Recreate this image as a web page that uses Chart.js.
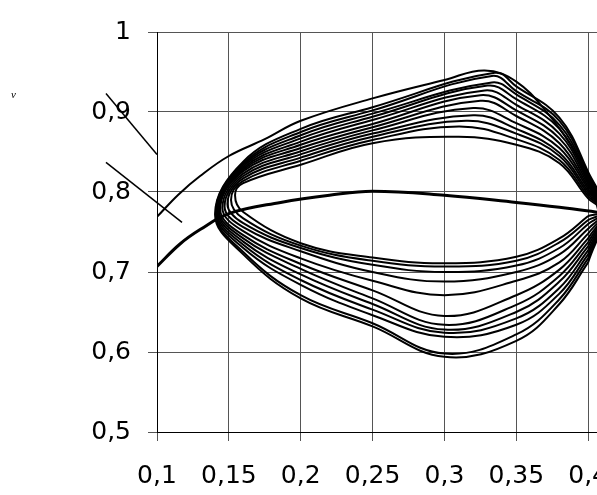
<!DOCTYPE html>
<html>
<head>
<meta charset="utf-8">
<script src="https://cdn.jsdelivr.net/npm/chart.js@4.4.1/dist/chart.umd.min.js"></script>
<style>
  html, body { margin: 0; padding: 0; background: #fff; overflow: hidden; }
  #wrap { position: relative; width: 597px; height: 495px; overflow: hidden; }
  #mark { position: absolute; left: 11px; top: 88px; font: italic 11px "Liberation Serif", serif; color: #000; }
</style>
</head>
<body>
<div id="wrap">
  <canvas id="chart" width="690" height="495"></canvas>
  <span id="mark">v</span>
</div>
<script>
// ── Axis ticks ─────────────────────────────────────────────────────────────
const X_MIN = 0.1, X_MAX = 0.45, X_STEP = 0.05;
const Y_MIN = 0.5, Y_MAX = 1, Y_STEP = 0.1;

// ── Loops: x positions where each arc was read ─────────────────────────────
const upperXs = [0.16, 0.2, 0.25];                 // before the peak
const upperXsAfter = [0.35, 0.38, 0.40];           // after the peak
const lowerXs = [0.40, 0.38, 0.35, 0.30, 0.25, 0.2, 0.16];
const loopRight = [0.411, 0.776];

// leftmost turning point of each loop (outer → inner)
const loopLeft = [
  [0.1404, 0.772], [0.1408, 0.773], [0.1412, 0.774], [0.1418, 0.775],
  [0.1425, 0.776], [0.1432, 0.777], [0.1440, 0.778], [0.1455, 0.780],
  [0.1470, 0.782], [0.1490, 0.785], [0.1515, 0.790], [0.1543, 0.796],
];

// upper arcs: y at upperXs
const upperY = [
  [0.838, 0.879, 0.906],
  [0.836, 0.875, 0.902],
  [0.834, 0.871, 0.898],
  [0.832, 0.867, 0.894],
  [0.830, 0.863, 0.890],
  [0.828, 0.859, 0.885],
  [0.826, 0.855, 0.881],
  [0.823, 0.851, 0.877],
  [0.820, 0.847, 0.873],
  [0.817, 0.843, 0.869],
  [0.814, 0.839, 0.865],
  [0.811, 0.834, 0.861],
];

// top of each upper arc
const upperPeak = [
  [0.335, 0.949], [0.333, 0.945], [0.333, 0.937], [0.330, 0.933],
  [0.328, 0.927], [0.325, 0.921], [0.325, 0.914], [0.320, 0.905],
  [0.320, 0.896], [0.315, 0.889], [0.310, 0.882], [0.310, 0.869],
];

// upper arcs: y at upperXsAfter
const upperYAfter = [
  [0.932, 0.893, 0.825],
  [0.926, 0.889, 0.822],
  [0.922, 0.884, 0.819],
  [0.916, 0.879, 0.816],
  [0.909, 0.873, 0.813],
  [0.902, 0.867, 0.810],
  [0.895, 0.861, 0.807],
  [0.886, 0.855, 0.804],
  [0.879, 0.849, 0.801],
  [0.873, 0.845, 0.798],
  [0.866, 0.840, 0.795],
  [0.859, 0.836, 0.792],
];

// lower arcs: y at lowerXs
const lowerY = [
  [0.712, 0.660, 0.614, 0.594, 0.632, 0.667, 0.722],
  [0.717, 0.666, 0.622, 0.598, 0.636, 0.671, 0.725],
  [0.722, 0.673, 0.634, 0.619, 0.646, 0.684, 0.730],
  [0.727, 0.680, 0.642, 0.624, 0.653, 0.690, 0.734],
  [0.732, 0.688, 0.650, 0.628, 0.660, 0.697, 0.738],
  [0.737, 0.695, 0.659, 0.634, 0.667, 0.704, 0.742],
  [0.742, 0.703, 0.671, 0.645, 0.677, 0.710, 0.746],
  [0.748, 0.712, 0.689, 0.671, 0.689, 0.717, 0.751],
  [0.754, 0.722, 0.700, 0.688, 0.700, 0.726, 0.756],
  [0.760, 0.730, 0.708, 0.700, 0.709, 0.730, 0.761],
  [0.765, 0.737, 0.714, 0.707, 0.714, 0.733, 0.767],
  [0.770, 0.742, 0.719, 0.711, 0.718, 0.736, 0.775],
];

// outer trajectory entering from the left axis
const outerLine = [
  [0.100, 0.769], [0.115, 0.797], [0.130, 0.820], [0.150, 0.845],
  [0.175, 0.866], [0.200, 0.889], [0.250, 0.917], [0.300, 0.940],
  [0.328, 0.952], [0.350, 0.938], [0.372, 0.898], [0.388, 0.858],
  [0.399, 0.818], [0.406, 0.784], [0.410, 0.750],
];

// thick middle trajectory
const middleLine = [
  [0.100, 0.707], [0.116, 0.735], [0.130, 0.753], [0.150, 0.773],
  [0.186, 0.787], [0.220, 0.796], [0.250, 0.801], [0.300, 0.796],
  [0.350, 0.787], [0.380, 0.781], [0.410, 0.774],
];

// two leader strokes left of the axis
const leaderA = [[0.0645, 0.923], [0.100, 0.847]];
const leaderB = [[0.0645, 0.837], [0.1174, 0.762]];

const pts = (arr) => arr.map(([x, y]) => ({ x, y }));

// lower arc (right → left), left turn, upper arc (left → right), right turn, close
function buildLoop(i) {
  const path = [];
  lowerXs.forEach((x, j) => path.push([x, lowerY[i][j]]));
  path.push(loopLeft[i]);
  upperXs.forEach((x, j) => path.push([x, upperY[i][j]]));
  path.push(upperPeak[i]);
  upperXsAfter.forEach((x, j) => path.push([x, upperYAfter[i][j]]));
  path.push(loopRight);
  path.push([lowerXs[0], lowerY[i][0]]);
  return pts(path);
}

const lineStyle = {
  showLine: true,
  borderColor: "#000",
  borderWidth: 2,
  pointRadius: 0,
  fill: false,
  tension: 0.4,
};

const datasets = [];
for (let i = 0; i < loopLeft.length; i++) {
  datasets.push({ ...lineStyle, data: buildLoop(i) });
}
datasets.push({ ...lineStyle, data: pts(outerLine) });
datasets.push({ ...lineStyle, borderWidth: 3, data: pts(middleLine) });
datasets.push({ ...lineStyle, borderWidth: 1.5, tension: 0, clip: false, data: pts(leaderA) });
datasets.push({ ...lineStyle, borderWidth: 1.5, tension: 0, clip: false, data: pts(leaderB) });

const TICK_FONT = { family: "'DejaVu Sans', sans-serif", size: 25 };
const GRID = "#555";

new Chart(document.getElementById("chart"), {
  type: "scatter",
  data: { datasets },
  options: {
    responsive: false,
    animation: false,
    devicePixelRatio: 1,
    layout: { padding: { top: 23, right: 30, left: 0, bottom: 0 } },
    plugins: { legend: { display: false }, tooltip: { enabled: false } },
    scales: {
      x: {
        type: "linear",
        min: X_MIN,
        max: X_MAX,
        ticks: {
          stepSize: X_STEP,
          color: "#000",
          font: TICK_FONT,
          padding: 20,
          maxRotation: 0,
          callback: (v) => (v > 0.44 ? "" : String(Math.round(v * 100) / 100).replace(".", ",")),
        },
        grid: { color: GRID, lineWidth: 1, tickLength: 9 },
        border: { color: "#000", width: 1 },
        afterFit: (s) => { s.height = 63; },
      },
      y: {
        min: Y_MIN,
        max: Y_MAX,
        ticks: {
          stepSize: Y_STEP,
          color: "#000",
          font: TICK_FONT,
          padding: 17,
          callback: (v) => String(Math.round(v * 10) / 10).replace(".", ","),
        },
        grid: { color: GRID, lineWidth: 1, tickLength: 9 },
        border: { color: "#000", width: 1 },
        afterFit: (s) => { s.width = 157; },
      },
    },
  },
});
</script>
</body>
</html>
